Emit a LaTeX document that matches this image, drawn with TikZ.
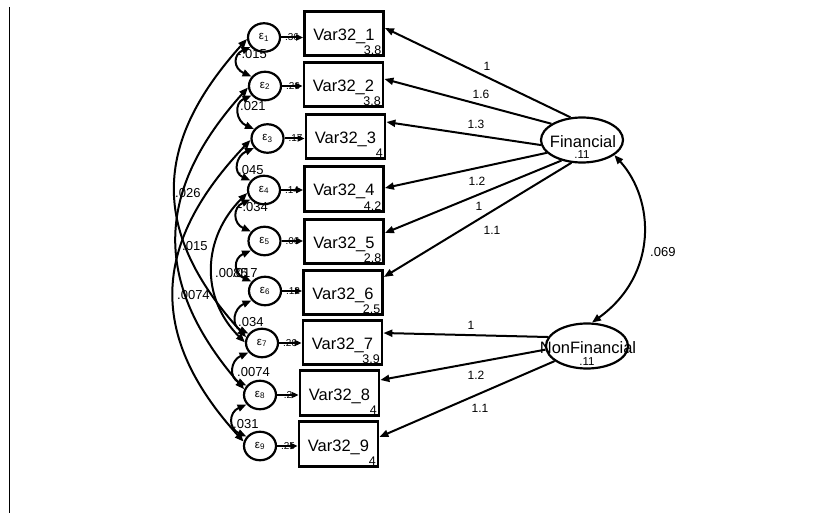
\documentclass[tikz,border=0pt]{standalone}
\usepackage{fontspec}
\setmainfont{Liberation Sans}
\usetikzlibrary{shapes.geometric,arrows.meta}
\begin{document}
\begin{tikzpicture}[x=1pt,y=1pt,
  obs/.style={draw, line width=2.8pt, minimum width=79pt, minimum height=44.5pt, inner sep=0pt},
  err/.style={draw, ellipse, line width=2.2pt, minimum width=32pt, minimum height=28.5pt, inner sep=0pt,
              font=\fontsize{11.5}{11.5}\selectfont},
  lat/.style={draw, ellipse, line width=2.2pt, minimum width=82pt, minimum height=45pt, inner sep=0pt},
  vname/.style={font=\fontsize{16.5}{18}\selectfont, inner sep=0pt, anchor=base},
  mean/.style={font=\fontsize{12.5}{14}\selectfont, inner sep=0pt, anchor=base east},
  plab/.style={font=\fontsize{12}{14}\selectfont, inner sep=0pt},
  clab/.style={font=\fontsize{13}{15}\selectfont, inner sep=0pt, anchor=west},
  vlab/.style={font=\fontsize{10}{12}\selectfont, inner sep=0pt},
  ld/.style={line width=2pt, -{Triangle[length=9pt,width=7pt]}},
  eld/.style={line width=2pt, -{Triangle[length=7pt,width=6pt]}},
  cv/.style={line width=2pt, {Triangle[length=9pt,width=7pt]}-{Triangle[length=9pt,width=7pt]}},
]
\useasboundingbox (0,0) rectangle (825,-513);
\draw[line width=0.9pt] (9,-7) -- (9,-513);

% observed boxes
\node[obs] (b1) at (344,-33.5) {};
\node[obs] (b2) at (343.5,-84.5) {};
\node[obs] (b3) at (345.5,-136.5) {};
\node[obs] (b4) at (344,-189) {};
\node[obs] (b5) at (344,-241.5) {};
\node[obs] (b6) at (343,-292.5) {};
\node[obs] (b7) at (342.5,-342.5) {};
\node[obs] (b8) at (339.5,-393) {};
\node[obs] (b9) at (338.5,-444) {};

\foreach \i/\m in {1/3.8,2/3.8,3/4,4/4.2,5/2.8,6/2.5,7/3.9,8/4,9/4}{
  \node[vname] (t\i) at ([yshift=-7pt]b\i.center) {Var32\_\i};
  \node[mean] (m\i) at ([xshift=-3.5pt,yshift=2.5pt]b\i.south east) {\m};
}

% error terms
\node[err] (e1) at (264,-37.5) {ε\textsubscript{1}};
\node[err] (e2) at (265,-86) {ε\textsubscript{2}};
\node[err] (e3) at (267.5,-138.5) {ε\textsubscript{3}};
\node[err] (e4) at (264,-190) {ε\textsubscript{4}};
\node[err] (e5) at (264.5,-241) {ε\textsubscript{5}};
\node[err] (e6) at (265,-291) {ε\textsubscript{6}};
\node[err] (e7) at (262,-343) {ε\textsubscript{7}};
\node[err] (e8) at (260,-395) {ε\textsubscript{8}};
\node[err] (e9) at (260,-446) {ε\textsubscript{9}};

% error variances and error paths
\foreach \i/\v in {1/.36,2/.26,3/.17,4/.14,5/.06,6/.12,7/.26,8/.2,9/.25}{
  \node[vlab] (v\i) at ([xshift=11pt]e\i.east) {\v};
  \draw[eld] (e\i.east) -- (e\i.east -| b\i.west);
}

% latent variables
\node[lat] (F) at (582,-140) {};
\node[vname] (Ft) at (583,-148) {Financial};
\node[plab, anchor=base, font=\fontsize{11.5}{13}\selectfont] (Fv) at (582,-159) {.11};
\node[lat] (N) at (587,-346) {};
\node[vname] (Nt) at (588,-353) {NonFinancial};
\node[plab, anchor=base, font=\fontsize{11.5}{13}\selectfont] (Nv) at (587,-365) {.11};

% loadings
\draw[ld] (F.117) -- ([yshift=5.5pt]b1.east);
\draw[ld] (F.152) -- ([yshift=5.5pt]b2.east);
\draw[ld] (F.187) -- ([yshift=14.5pt]b3.east);
\draw[ld] (F.200) -- ([yshift=1pt]b4.east);
\draw[ld] (F.225) -- ([yshift=8.5pt]b5.east);
\draw[ld] (F.245) -- ([yshift=15.5pt]b6.east);
\draw[ld] (N.167) -- ([yshift=9.5pt]b7.east);
\draw[ld] (N.185) -- ([yshift=13pt]b8.east);
\draw[ld] (N.205) -- ([yshift=7pt]b9.east);

\node[plab] (l1) at (487,-66) {1};
\node[plab] (l2) at (481,-94) {1.6};
\node[plab] (l3) at (476,-124) {1.3};
\node[plab] (l4) at (477,-181) {1.2};
\node[plab] (l5) at (479,-206) {1};
\node[plab] (l6) at (492,-230) {1.1};
\node[plab] (l7) at (471,-325) {1};
\node[plab] (l8) at (476,-375) {1.2};
\node[plab] (l9) at (480,-408) {1.1};

% adjacent error covariances
\draw[cv] (e1.215) .. controls +(-18,-8) and +(-18,8) .. (e2.145);
\draw[cv] (e2.215) .. controls +(-18,-8) and +(-18,8) .. (e3.145);
\draw[cv] (e3.215) .. controls +(-18,-8) and +(-18,8) .. (e4.145);
\draw[cv] (e4.215) .. controls +(-18,-8) and +(-18,8) .. (e5.145);
\draw[cv] (e5.215) .. controls +(-18,-8) and +(-18,8) .. (e6.145);
\draw[cv] (e6.215) .. controls +(-18,-8) and +(-18,8) .. (e7.145);
\draw[cv] (e7.215) .. controls +(-18,-8) and +(-18,8) .. (e8.145);
\draw[cv] (e8.215) .. controls +(-18,-8) and +(-18,8) .. (e9.145);

% long error covariances
\draw[cv] (e1.185) .. controls +(-90,-100) and +(-100,110) .. (e7.160);
\draw[cv] (e2.185) .. controls +(-90,-100) and +(-95,110) .. (e8.160);
\draw[cv] (e3.185) .. controls +(-95,-100) and +(-100,110) .. (e9.165);
\draw[cv] (e4.190) .. controls +(-45,-45) and +(-45,45) .. (e7.178);

\node[clab] (c12) at (237,-54) {-.015};
\node[clab] (c23) at (240,-106) {.021};
\node[clab] (c34) at (238,-170) {.045};
\node[clab] (c45) at (238,-207) {-.034};
\node[clab] (c47) at (215,-273) {.0085};
\node[clab] (c56) at (232,-273) {.017};
\node[clab] (c67) at (238,-322) {.034};
\node[clab] (c78) at (237,-372) {.0074};
\node[clab] (c89) at (233,-424) {.031};
\node[clab] (c17) at (175,-193) {.026};
\node[clab] (c28) at (182,-246) {.015};
\node[clab] (c39) at (177,-295) {.0074};

% latent covariance
\draw[cv] (F.335) .. controls (655,-200) and (658,-275) .. (N.78);
\node[clab] (cFN) at (650,-252) {.069};
\end{tikzpicture}
\end{document}
